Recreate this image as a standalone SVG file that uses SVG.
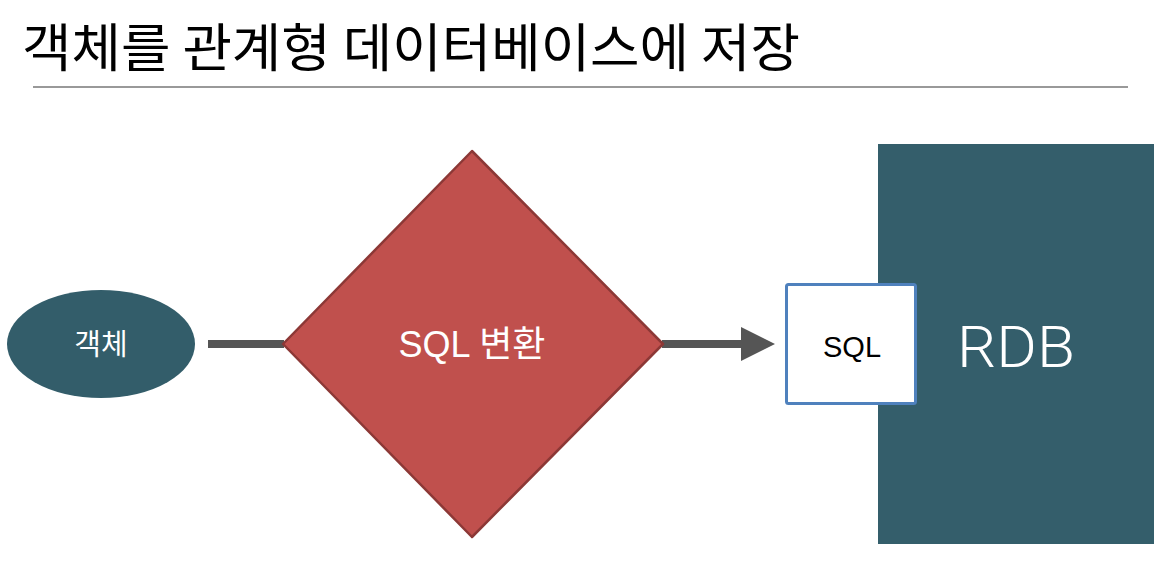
<svg xmlns="http://www.w3.org/2000/svg" width="1165" height="584" viewBox="0 0 1165 584">
<style>
.ko{font-family:"Liberation Sans","Noto Sans CJK KR",sans-serif}
.title{font-family:"Noto Sans CJK KR",sans-serif;font-size:52px;fill:#000}
.conn{stroke:#555555;stroke-width:8;fill:none}
</style>
<defs>
<marker id="arr" markerUnits="userSpaceOnUse" markerWidth="36" markerHeight="36" refX="4" refY="18" orient="auto" viewBox="0 0 36 36">
<path d="M0,1 L34,18 L0,35 Z" fill="#555555"/>
</marker>
</defs>
<rect width="1165" height="584" fill="#ffffff"/>
<g id="title">
<text class="title" x="22" y="67" textLength="778" lengthAdjust="spacingAndGlyphs">객체를 관계형 데이터베이스에 저장</text>
<line x1="33" y1="87" x2="1128" y2="87" stroke="#777777" stroke-width="1.5"/>
</g>
<g id="connectors">
<line class="conn" x1="208" y1="344" x2="284" y2="344"/>
<line class="conn" x1="662" y1="344" x2="745" y2="344" marker-end="url(#arr)"/>
</g>
<g id="object">
<ellipse cx="101" cy="344" rx="94" ry="54" fill="#335D6A"/>
<text class="ko" x="101" y="355" font-size="29" fill="#ffffff" text-anchor="middle">객체</text>
</g>
<g id="convert">
<polygon points="472,151 663,344 472,537 283,344" fill="#C0504D" stroke="#8C3836" stroke-width="2.5" stroke-linejoin="round"/>
<text class="ko" x="472" y="357" font-size="36" fill="#ffffff" text-anchor="middle">SQL 변환</text>
</g>
<g id="rdb">
<rect x="878" y="144" width="276" height="400" fill="#345E6B"/>
<text x="1016" y="367" font-family="Roboto,'Liberation Sans',sans-serif" font-weight="300" font-size="58" fill="#ffffff" text-anchor="middle" textLength="118" lengthAdjust="spacingAndGlyphs">RDB</text>
</g>
<g id="sql">
<rect x="786.5" y="284.5" width="129" height="119" rx="2" fill="#ffffff" stroke="#4F81BD" stroke-width="3"/>
<text class="ko" x="852" y="357" font-size="29" fill="#000000" text-anchor="middle">SQL</text>
</g>
</svg>
